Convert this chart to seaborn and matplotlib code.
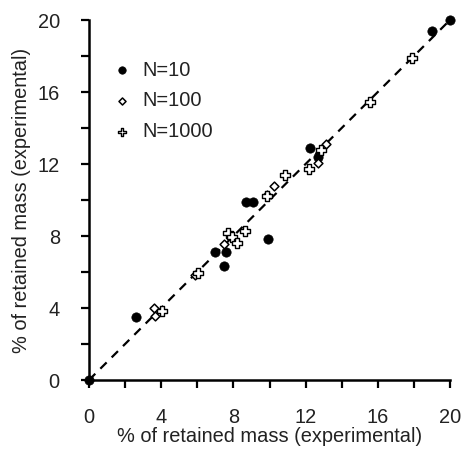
import matplotlib
matplotlib.use("Agg")
import matplotlib.pyplot as plt
import seaborn as sns
import pandas as pd
from matplotlib.ticker import MultipleLocator

sns.set_style("ticks")
plt.rcParams['font.family'] = ['Liberation Sans', 'DejaVu Sans']

# N=10
x10 = [0.0, 2.6, 7.0, 7.6, 7.5, 8.7, 9.1, 9.9, 12.26, 12.67, 18.98, 20.0]
y10 = [0.0, 3.5, 7.1, 7.1, 6.35, 9.9, 9.9, 7.85, 12.9, 12.37, 19.4, 20.0]
# N=100
x100 = [3.6, 3.67, 5.9, 7.5, 9.88, 10.25, 12.69, 13.15, 17.9]
y100 = [4.0, 3.58, 5.85, 7.55, 10.3, 10.8, 12.04, 13.1, 17.9]
# N=1000
x1000 = [4.06, 6.05, 7.7, 7.92, 8.2, 8.63, 9.88, 10.86, 12.17, 12.87, 15.57, 17.9]
y1000 = [3.85, 5.93, 8.15, 7.96, 7.6, 8.3, 10.24, 11.4, 11.74, 12.8, 15.46, 17.9]

labels = ["N=10", "N=100", "N=1000"]

df = pd.concat([
    pd.DataFrame({"x": x10, "y": y10, "group": labels[0]}),
    pd.DataFrame({"x": x100, "y": y100, "group": labels[1]}),
    pd.DataFrame({"x": x1000, "y": y1000, "group": labels[2]}),
])

FS = 14.4
fig = plt.figure(figsize=(4.62, 4.5), dpi=100)
ax = fig.add_axes([89/462, 1-380/450, 361/462, 360/450])

ax.plot([0, 20], [0, 20], ls=(0, (4, 3.2)), color="black", lw=1.6, zorder=1)

styles = {
    "N=10": dict(marker="o", s=45, color="black", edgecolor="black", linewidth=0.5),
    "N=100": dict(marker="D", s=20, color="white", edgecolor="black", linewidth=1.1),
    "N=1000": dict(marker="P", s=60, color="white", edgecolor="black", linewidth=1.0),
}
for g in labels:
    sub = df[df["group"] == g]
    sns.scatterplot(data=sub, x="x", y="y", ax=ax, label=g, clip_on=False, zorder=3, **styles[g])

ax.set_xlim(0, 20)
ax.set_ylim(0, 20)
ax.xaxis.set_major_locator(MultipleLocator(4))
ax.yaxis.set_major_locator(MultipleLocator(4))
ax.xaxis.set_minor_locator(MultipleLocator(2))
ax.yaxis.set_minor_locator(MultipleLocator(2))
ax.tick_params(which="both", direction="out", length=6, width=1.6, color="black")
ax.tick_params(axis="x", which="major", pad=14.5, labelsize=FS, labelcolor="#222222")
ax.tick_params(axis="y", which="major", pad=15, labelsize=FS, labelcolor="#222222")
for s in ["left", "bottom"]:
    ax.spines[s].set_linewidth(1.8)
    ax.spines[s].set_color("black")
sns.despine(ax=ax)

ax.set_xlabel("% of retained mass (experimental)", fontsize=FS, labelpad=0, color="#222222")
ax.set_ylabel("% of retained mass (experimental)", fontsize=FS, labelpad=5, color="#222222")

leg = ax.legend(loc="upper left", bbox_to_anchor=(0.0637, 0.887), frameon=False,
                fontsize=FS, handletextpad=0.5, labelspacing=0.58, markerscale=0.8,
                borderaxespad=0, borderpad=0, handlelength=1.0)
for t in leg.get_texts():
    t.set_color("#222222")

fig.savefig("out.png", dpi=100)
